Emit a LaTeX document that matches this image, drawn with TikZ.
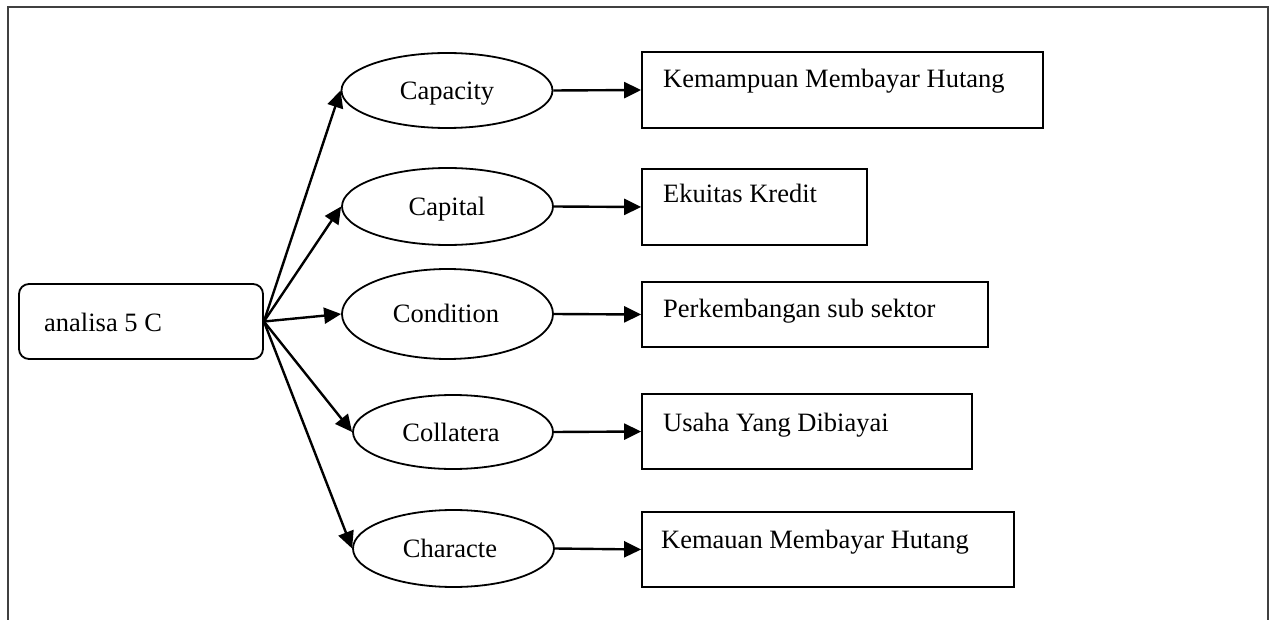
\documentclass[tikz,border=0pt]{standalone}
\usepackage{fontspec}
\setmainfont{Liberation Serif}
\usetikzlibrary{arrows.meta,shapes.geometric}
\begin{document}
\begin{tikzpicture}[x=1pt,y=-1pt,
  oval/.style={draw,ellipse,line width=1.8pt,inner sep=0pt,minimum width=211pt,minimum height=76pt},
  outbox/.style={draw,rectangle,line width=1.8pt,inner sep=0pt},
  lbl/.style={inner sep=0pt,font=\fontsize{26.5}{32}\selectfont},
  link/.style={line width=2.4pt,-{Triangle[length=17pt,width=16pt]}},
]
\useasboundingbox (0,0) rectangle (1274,620);
% page frame, open at the bottom
\draw[line width=1.4pt,black!75] (8,620) -- (8,7) -- (1268,7) -- (1268,620);

% root box
\node[draw,rounded corners=10pt,line width=1.8pt,inner sep=0pt,
      minimum width=244pt,minimum height=75pt] (root) at (141,321.5) {};
\node[lbl,anchor=base west] (roottext) at (44,331) {analisa 5 C};

% the five C's
\node[oval,minimum height=75pt] (c1) at (447,90.5) {};
\node[oval,minimum height=77pt] (c2) at (447.5,206.5) {};
\node[oval,minimum height=90pt] (c3) at (447.5,314) {};
\node[oval,minimum width=200pt,minimum height=74pt] (c4) at (453,432) {};
\node[oval,minimum width=201pt,minimum height=77pt] (c5) at (453.5,548.5) {};

\node[lbl,anchor=base] (t1) at (447,99.5) {Capacity};
\node[lbl,anchor=base] (t2) at (447,215.5) {Capital};
\node[lbl,anchor=base] (t3) at (446,323) {Condition};
\node[lbl,anchor=base] (t4) at (451,441) {Collatera};
\node[lbl,anchor=base] (t5) at (450,557.5) {Characte};

% descriptions
\node[outbox,minimum width=401pt,minimum height=76pt] (b1) at (842.5,90) {};
\node[outbox,minimum width=225pt,minimum height=76pt] (b2) at (754.5,207) {};
\node[outbox,minimum width=346pt,minimum height=65pt] (b3) at (815,314.5) {};
\node[outbox,minimum width=330pt,minimum height=75pt] (b4) at (807,431.5) {};
\node[outbox,minimum width=372pt,minimum height=75pt] (b5) at (828,549.5) {};

\node[lbl,anchor=base west] (d1) at (663,88) {Kemampuan Membayar Hutang};
\node[lbl,anchor=base west] (d2) at (663,203) {Ekuitas Kredit};
\node[lbl,anchor=base west] (d3) at (663,317) {Perkembangan sub sektor};
\node[lbl,anchor=base west] (d4) at (663,431) {Usaha Yang Dibiayai};
\node[lbl,anchor=base west] (d5) at (661,548) {Kemauan Membayar Hutang};

% connectors
\foreach \i in {1,...,5} {
  \draw[link] (root.east) -- (c\i.west);
  \draw[link] (c\i.east) -- (b\i.west);
}
\end{tikzpicture}
\end{document}
